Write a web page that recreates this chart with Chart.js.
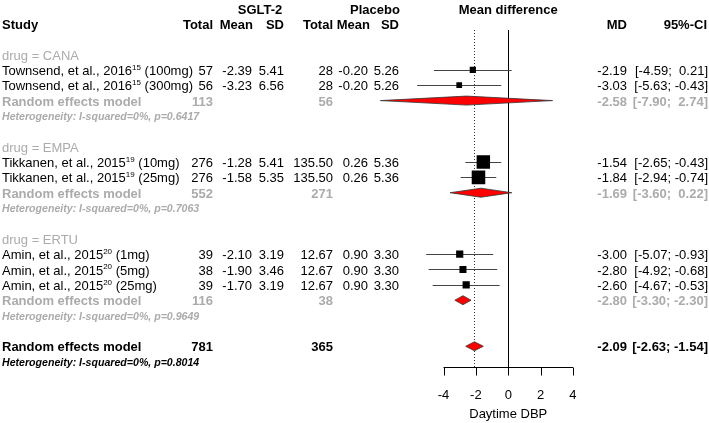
<!DOCTYPE html>
<html>
<head>
<meta charset="utf-8">
<script src="https://cdn.jsdelivr.net/npm/chart.js@4"></script>
<style>
  body { margin: 0; background: #fff; }
  canvas { display: block; }
</style>
</head>
<body>
<canvas id="forest" width="709" height="423"></canvas>
<script>
// study level data
var groups = ['CANA', 'EMPA', 'ERTU'];
var studyAuthor = ['Townsend, et al., 2016', 'Townsend, et al., 2016', 'Tikkanen, et al., 2015', 'Tikkanen, et al., 2015',
  'Amin, et al., 2015', 'Amin, et al., 2015', 'Amin, et al., 2015'];
var studyRef = ['15', '15', '19', '19', '20', '20', '20'];
var studyDose = ['(100mg)', '(300mg)', '(10mg)', '(25mg)', '(1mg)', '(5mg)', '(25mg)'];
var studyGroup = [0, 0, 1, 1, 2, 2, 2];
var sgltTotal = [57, 56, 276, 276, 39, 38, 39];
var sgltMean = [-2.39, -3.23, -1.28, -1.58, -2.10, -1.90, -1.70];
var sgltSD = [5.41, 6.56, 5.41, 5.35, 3.19, 3.46, 3.19];
var pboTotal = [28, 28, 135.5, 135.5, 12.67, 12.67, 12.67];
var pboMean = [-0.20, -0.20, 0.26, 0.26, 0.90, 0.90, 0.90];
var pboSD = [5.26, 5.26, 5.36, 5.36, 3.30, 3.30, 3.30];
var md = [-2.19, -3.03, -1.54, -1.84, -3.00, -2.80, -2.60];
var mdLower = [-4.59, -5.63, -2.65, -2.94, -5.07, -4.92, -4.67];
var mdUpper = [0.21, -0.43, -0.43, -0.74, -0.93, -0.68, -0.53];

// subgroup random effects models
var groupSgltTotal = [113, 552, 116];
var groupPboTotal = [56, 271, 38];
var groupMd = [-2.58, -1.69, -2.80];
var groupLower = [-7.90, -3.60, -3.30];
var groupUpper = [2.74, 0.22, -2.30];
var groupHetP = ['0.6417', '0.7063', '0.9649'];

// overall random effects model
var overallSgltTotal = 781;
var overallPboTotal = 365;
var overallMd = -2.09;
var overallLower = -2.63;
var overallUpper = -1.54;
var overallHetP = '0.8014';

var xTicks = [-4, -2, 0, 2, 4];

// row layout
var studyRow = [], groupRow = [], groupModelRow = [];
var r = 0;
groups.forEach(function (g, gi) {
  groupRow.push(r); r++;
  studyGroup.forEach(function (sg, i) { if (sg === gi) { studyRow.push(r); r++; } });
  groupModelRow.push(r); r += 3;
});
var overallRow = r;

var FONT = '"Liberation Sans", Arial, Helvetica, sans-serif';
var GREY = '#ababab';

function f2(v) { return v.toFixed(2); }
function fTot(v) { return Number.isInteger(v) ? String(v) : v.toFixed(2); }
function fCI(lo, hi) {
  var h = hi >= 0 ? ' ' + f2(hi) : f2(hi);
  var l = lo >= 0 ? ' ' + f2(lo) : f2(lo);
  return '[' + l + '; ' + h + ']';
}
function squareSide(i) {
  var se = (mdUpper[i] - mdLower[i]) / 3.92;
  return 7.6 * Math.sqrt(1 / (se * se));
}

var forestPlugin = {
  id: 'forest',
  beforeDatasetsDraw: function (chart) {
    var ctx = chart.ctx, xs = chart.scales.x, ys = chart.scales.y;
    var top = 30, bottom = chart.chartArea.bottom;
    ctx.save();
    // reference lines
    ctx.strokeStyle = '#000';
    ctx.lineWidth = 1;
    var x0 = Math.round(xs.getPixelForValue(0)) + 0.5;
    ctx.beginPath(); ctx.moveTo(x0, top); ctx.lineTo(x0, bottom); ctx.stroke();
    ctx.setLineDash([1, 2]);
    ctx.strokeStyle = '#333';
    var xm = Math.round(xs.getPixelForValue(overallMd)) + 0.5;
    ctx.beginPath(); ctx.moveTo(xm, top); ctx.lineTo(xm, bottom); ctx.stroke();
    ctx.setLineDash([]);
    // confidence intervals
    ctx.strokeStyle = '#444';
    md.forEach(function (v, i) {
      var y = Math.round(ys.getPixelForValue(studyRow[i])) + 0.5;
      ctx.beginPath();
      ctx.moveTo(xs.getPixelForValue(mdLower[i]), y);
      ctx.lineTo(xs.getPixelForValue(mdUpper[i]), y);
      ctx.stroke();
    });
    // diamonds
    function diamond(m, lo, hi, row) {
      var y = ys.getPixelForValue(row);
      ctx.beginPath();
      ctx.moveTo(xs.getPixelForValue(lo), y);
      ctx.lineTo(xs.getPixelForValue(m), y - 4.5);
      ctx.lineTo(xs.getPixelForValue(hi), y);
      ctx.lineTo(xs.getPixelForValue(m), y + 4.5);
      ctx.closePath();
      ctx.fillStyle = '#ff0000';
      ctx.fill();
      ctx.strokeStyle = '#333';
      ctx.lineWidth = 0.8;
      ctx.stroke();
    }
    groupMd.forEach(function (m, gi) { diamond(m, groupLower[gi], groupUpper[gi], groupModelRow[gi]); });
    diamond(overallMd, overallLower, overallUpper, overallRow);
    ctx.restore();
  },
  afterDraw: function (chart) {
    var ctx = chart.ctx, xs = chart.scales.x, ys = chart.scales.y;
    ctx.save();
    ctx.textBaseline = 'middle';
    function t(s, x, y, align, font, color) {
      ctx.font = font;
      ctx.textAlign = align;
      ctx.fillStyle = color;
      ctx.fillText(s, x, y);
    }
    var reg = '13px ' + FONT, bold = 'bold 13px ' + FONT, het = 'italic bold 10.6px ' + FONT;
    var Y = function (row) { return ys.getPixelForValue(row) + 1.5; };

    // headers
    var h1 = Y(-3) + 0.5, h2 = Y(-2);
    t('SGLT-2', 260, h1, 'center', bold, '#000');
    t('Placebo', 375, h1, 'center', bold, '#000');
    t('Mean difference', xs.getPixelForValue(0), h1, 'center', bold, '#000');
    t('Study', 2, h2, 'left', bold, '#000');
    t('Total', 213, h2, 'right', bold, '#000');
    t('Mean', 253, h2, 'right', bold, '#000');
    t('SD', 284, h2, 'right', bold, '#000');
    t('Total', 333, h2, 'right', bold, '#000');
    t('Mean', 370, h2, 'right', bold, '#000');
    t('SD', 399, h2, 'right', bold, '#000');
    t('MD', 627, h2, 'right', bold, '#000');
    t('95%-CI', 707, h2, 'right', bold, '#000');

    // studies
    md.forEach(function (v, i) {
      var y = Y(studyRow[i]);
      t(studyAuthor[i], 2, y, 'left', reg, '#000');
      var w = ctx.measureText(studyAuthor[i]).width;
      t(studyRef[i], 2 + w, y - 4, 'left', '8px ' + FONT, '#000');
      var w2 = ctx.measureText(studyRef[i]).width;
      t(' ' + studyDose[i], 2 + w + w2, y, 'left', reg, '#000');
      t(String(sgltTotal[i]), 213, y, 'right', reg, '#000');
      t(f2(sgltMean[i]), 252, y, 'right', reg, '#000');
      t(f2(sgltSD[i]), 284, y, 'right', reg, '#000');
      t(fTot(pboTotal[i]), 333, y, 'right', reg, '#000');
      t(f2(pboMean[i]), 368, y, 'right', reg, '#000');
      t(f2(pboSD[i]), 399, y, 'right', reg, '#000');
      t(f2(v), 627, y, 'right', reg, '#000');
      t(fCI(mdLower[i], mdUpper[i]), 708, y, 'right', reg, '#000');
    });

    // subgroups
    groups.forEach(function (g, gi) {
      t('drug = ' + g, 2, Y(groupRow[gi]), 'left', reg, GREY);
      var y = Y(groupModelRow[gi]);
      t('Random effects model', 2, y, 'left', bold, GREY);
      t(String(groupSgltTotal[gi]), 213, y, 'right', bold, GREY);
      t(String(groupPboTotal[gi]), 333, y, 'right', bold, GREY);
      t(f2(groupMd[gi]), 627, y, 'right', bold, GREY);
      t(fCI(groupLower[gi], groupUpper[gi]), 708, y, 'right', bold, GREY);
      t('Heterogeneity: I-squared=0%, p=' + groupHetP[gi], 2, Y(groupModelRow[gi] + 1), 'left', het, GREY);
    });

    // overall
    var yo = Y(overallRow);
    t('Random effects model', 2, yo, 'left', bold, '#000');
    t(String(overallSgltTotal), 213, yo, 'right', bold, '#000');
    t(String(overallPboTotal), 333, yo, 'right', bold, '#000');
    t(f2(overallMd), 627, yo, 'right', bold, '#000');
    t(fCI(overallLower, overallUpper), 708, yo, 'right', bold, '#000');
    t('Heterogeneity: I-squared=0%, p=' + overallHetP, 2, Y(overallRow + 1), 'left', het, '#000');

    // x axis
    var ay = Math.round(chart.chartArea.bottom) + 0.5;
    ctx.strokeStyle = '#000';
    ctx.lineWidth = 1;
    ctx.beginPath();
    ctx.moveTo(xs.getPixelForValue(xTicks[0]), ay);
    ctx.lineTo(xs.getPixelForValue(xTicks[xTicks.length - 1]), ay);
    xTicks.forEach(function (v) {
      var px = Math.round(xs.getPixelForValue(v)) + 0.5;
      ctx.moveTo(px, ay);
      ctx.lineTo(px, ay + 8);
    });
    ctx.stroke();
    xTicks.forEach(function (v) {
      t(String(v), xs.getPixelForValue(v), ay + 28, 'center', reg, '#000');
    });
    t('Daytime DBP', xs.getPixelForValue(0), ay + 47, 'center', reg, '#000');
    ctx.restore();
  }
};

var ctx = document.getElementById('forest').getContext('2d');
var forestChart = new Chart(ctx, {
  type: 'scatter',
  data: {
    datasets: [{
      label: 'MD',
      data: md.map(function (v, i) { return { x: v, y: studyRow[i] }; }),
      pointStyle: 'rect',
      pointRadius: md.map(function (v, i) { return squareSide(i) / Math.SQRT2; }),
      backgroundColor: '#000',
      borderColor: '#000',
      borderWidth: 0
    }]
  },
  options: {
    responsive: false,
    animation: false,
    layout: { autoPadding: false, padding: { left: 378.8, right: 152.2, top: 0, bottom: 56 } },
    plugins: { legend: { display: false }, tooltip: { enabled: false } },
    scales: {
      x: { type: 'linear', min: -8, max: 3, display: false },
      y: { type: 'linear', min: -3.55, max: 20.35, reverse: true, display: false }
    }
  },
  plugins: [forestPlugin]
});
</script>
</body>
</html>
